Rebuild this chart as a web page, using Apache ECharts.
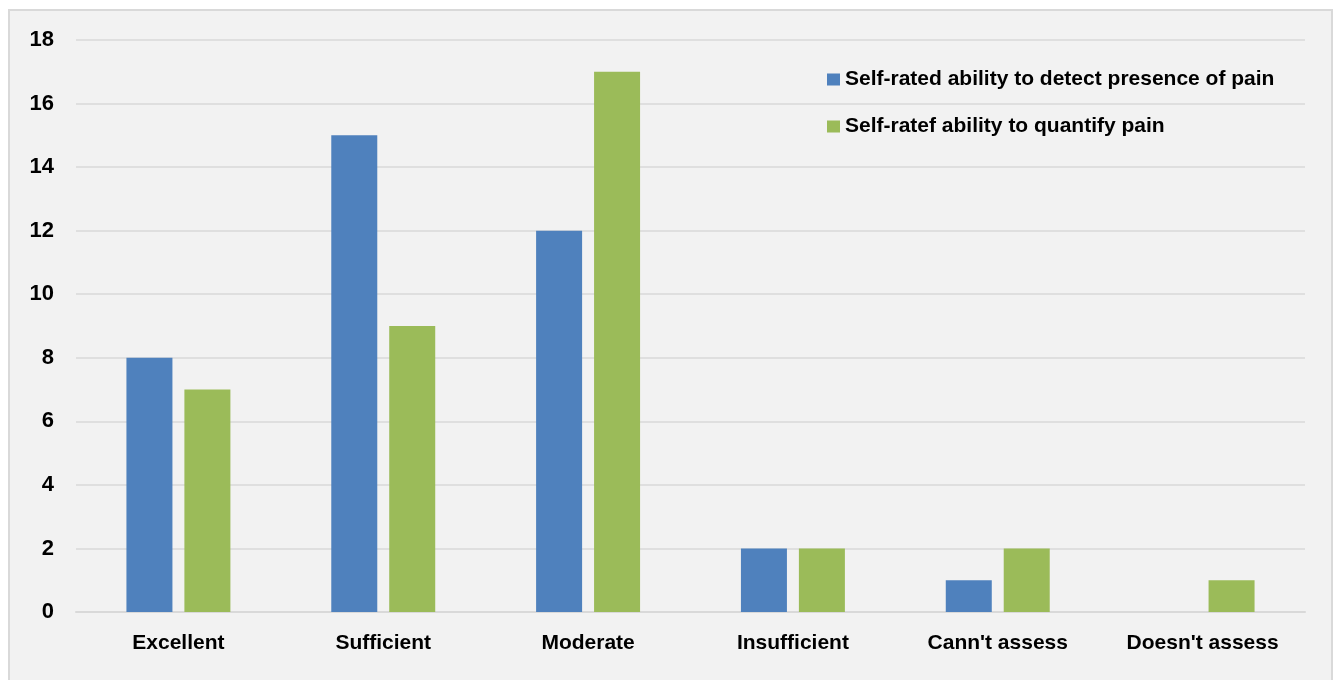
<!DOCTYPE html>
<html>
<head>
<meta charset="utf-8">
<script src="https://cdn.jsdelivr.net/npm/echarts@6/dist/echarts.min.js"></script>
<style>
  html, body { margin: 0; padding: 0; background: #ffffff; }
  #chart { width: 1335px; height: 680px; }
</style>
</head>
<body>
<div id="chart"></div>
<script>
// Self-rated ability of respondents, grouped by rating
const categories = ['Excellent', 'Sufficient', 'Moderate', 'Insufficient', "Cann't assess", "Doesn't assess"];
const detectPresence = [8, 15, 12, 2, 1, null];
const quantifyPain = [7, 9, 17, 2, 2, 1];
const seriesNames = ['Self-rated ability to detect presence of pain', 'Self-ratef ability to quantify pain'];
const yTicks = { min: 0, max: 18, interval: 2 };

const FONT = '"Liberation Sans", Arial, sans-serif';
const chart = echarts.init(document.getElementById('chart'), null, { renderer: 'canvas' });

chart.setOption({
  backgroundColor: '#ffffff',
  animation: false,
  graphic: [{
    type: 'rect',
    z: -10,
    silent: true,
    shape: { x: 9, y: 10, width: 1323, height: 680 },
    style: { fill: '#f2f2f2', stroke: '#d9d9d9', lineWidth: 2 }
  }],
  textStyle: { fontFamily: FONT },
  legend: {
    orient: 'vertical',
    left: 822,
    top: 64,
    itemWidth: 13,
    itemHeight: 12,
    itemGap: 26,
    icon: 'rect',
    textStyle: { fontFamily: FONT, fontSize: 21, fontWeight: 'bold', color: '#000000' },
    data: seriesNames
  },
  grid: { left: 76, right: 30, top: 40, bottom: 68, containLabel: false },
  xAxis: {
    type: 'category',
    data: categories,
    axisLine: { show: true, lineStyle: { color: '#d9d9d9', width: 2 } },
    axisTick: { show: false },
    axisLabel: { fontFamily: FONT, fontSize: 21, fontWeight: 'bold', color: '#000000', margin: 21, interval: 0 }
  },
  yAxis: {
    type: 'value',
    min: yTicks.min,
    max: yTicks.max,
    interval: yTicks.interval,
    axisLine: { show: false },
    axisTick: { show: false },
    splitLine: { lineStyle: { color: '#d9d9d9', width: 1.5 } },
    axisLabel: { fontFamily: FONT, fontSize: 22, fontWeight: 'bold', color: '#000000', margin: 22 }
  },
  series: [
    {
      name: seriesNames[0],
      type: 'bar',
      data: detectPresence,
      itemStyle: { color: '#4f81bd' },
      barWidth: 46,
      barGap: '26%'
    },
    {
      name: seriesNames[1],
      type: 'bar',
      data: quantifyPain,
      itemStyle: { color: '#9bbb59' },
      barWidth: 46,
      barGap: '26%'
    }
  ]
});
</script>
</body>
</html>
